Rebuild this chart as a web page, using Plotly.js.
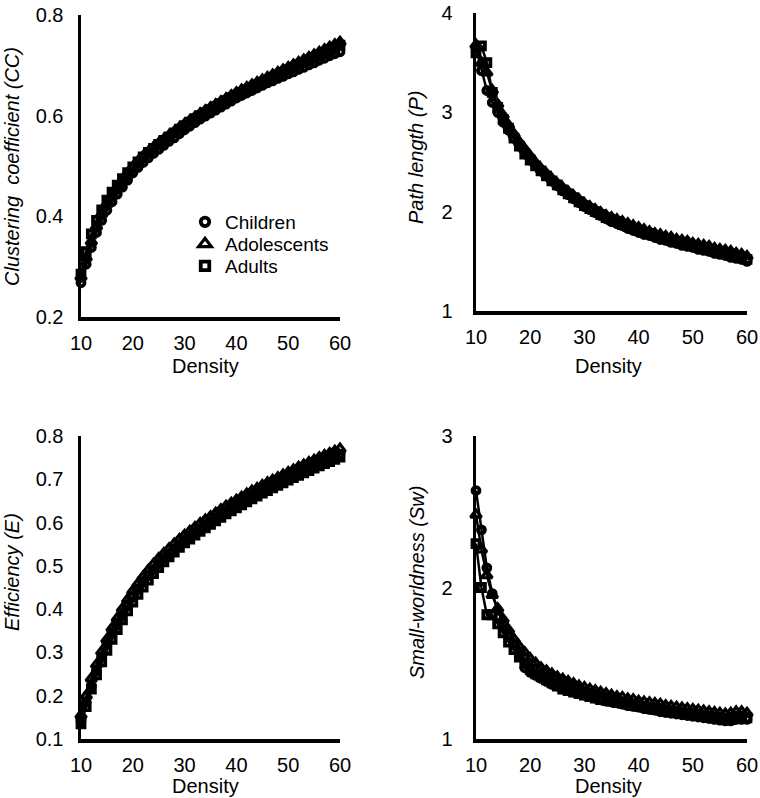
<!DOCTYPE html>
<html>
<head>
<meta charset="utf-8">
<script src="https://cdn.plot.ly/plotly-3.0.1.min.js"></script>
<style>html,body{margin:0;padding:0;background:#fff;}#chart{width:760px;height:798px;}</style>
</head>
<body>
<div id="chart"></div>
<script>
// ---- data ----
const density = [10,11,12,13,14,15,16,17,18,19,20,21,22,23,24,25,26,27,28,29,30,31,32,33,34,35,36,37,38,39,40,41,42,43,44,45,46,47,48,49,50,51,52,53,54,55,56,57,58,59,60];
const groups = ["Children","Adolescents","Adults"];

const ccChildren = [0.268,0.305,0.338,0.368,0.392,0.412,0.429,0.444,0.458,0.472,0.486,0.497,0.507,0.516,0.525,0.533,0.541,0.549,0.556,0.564,0.572,0.579,0.586,0.593,0.599,0.605,0.611,0.617,0.623,0.629,0.635,0.640,0.645,0.650,0.655,0.660,0.665,0.669,0.674,0.678,0.683,0.687,0.692,0.696,0.701,0.705,0.710,0.714,0.719,0.723,0.727];
const ccAdolescents = [0.280,0.318,0.350,0.380,0.405,0.425,0.442,0.458,0.472,0.486,0.498,0.509,0.519,0.528,0.537,0.545,0.553,0.561,0.568,0.576,0.583,0.590,0.597,0.604,0.610,0.616,0.622,0.628,0.634,0.640,0.646,0.651,0.656,0.661,0.666,0.671,0.676,0.681,0.686,0.691,0.696,0.701,0.706,0.711,0.716,0.721,0.726,0.731,0.736,0.741,0.746];
const ccAdults = [0.285,0.330,0.365,0.392,0.413,0.432,0.448,0.462,0.475,0.487,0.498,0.508,0.518,0.527,0.535,0.543,0.551,0.558,0.566,0.573,0.580,0.587,0.594,0.600,0.606,0.612,0.618,0.624,0.630,0.636,0.641,0.646,0.651,0.656,0.661,0.666,0.671,0.676,0.681,0.686,0.691,0.696,0.701,0.706,0.711,0.716,0.720,0.725,0.730,0.735,0.740];

const pChildren = [3.65,3.42,3.22,3.10,3.00,2.90,2.82,2.74,2.66,2.60,2.54,2.47,2.41,2.36,2.31,2.26,2.21,2.17,2.13,2.09,2.05,2.02,1.99,1.96,1.93,1.90,1.88,1.86,1.83,1.81,1.79,1.77,1.76,1.74,1.72,1.71,1.69,1.68,1.66,1.65,1.64,1.62,1.61,1.60,1.58,1.57,1.56,1.54,1.53,1.52,1.50];
const pAdolescents = [3.68,3.50,3.40,3.22,3.08,2.97,2.87,2.78,2.70,2.63,2.56,2.49,2.43,2.38,2.33,2.28,2.24,2.20,2.16,2.12,2.08,2.05,2.02,1.99,1.96,1.94,1.92,1.90,1.88,1.86,1.84,1.82,1.80,1.78,1.77,1.75,1.74,1.72,1.71,1.70,1.68,1.67,1.66,1.65,1.63,1.62,1.61,1.60,1.58,1.57,1.55];
const pAdults = [3.60,3.67,3.50,3.20,3.05,2.93,2.84,2.74,2.66,2.58,2.52,2.46,2.41,2.36,2.31,2.27,2.22,2.18,2.14,2.10,2.06,2.03,2.00,1.97,1.94,1.92,1.90,1.87,1.85,1.83,1.81,1.79,1.78,1.76,1.74,1.73,1.71,1.70,1.68,1.67,1.66,1.64,1.63,1.62,1.60,1.59,1.58,1.56,1.55,1.54,1.52];

const eChildren = [0.142,0.185,0.223,0.258,0.290,0.319,0.345,0.368,0.390,0.410,0.430,0.447,0.463,0.478,0.492,0.505,0.517,0.528,0.539,0.549,0.558,0.567,0.576,0.585,0.593,0.601,0.610,0.618,0.626,0.634,0.641,0.648,0.655,0.662,0.668,0.675,0.681,0.687,0.693,0.699,0.705,0.711,0.716,0.722,0.727,0.733,0.738,0.743,0.748,0.753,0.758];
const eAdolescents = [0.155,0.200,0.240,0.272,0.302,0.330,0.356,0.379,0.401,0.422,0.442,0.459,0.475,0.490,0.504,0.517,0.529,0.540,0.551,0.561,0.571,0.580,0.589,0.598,0.606,0.614,0.622,0.630,0.638,0.645,0.652,0.659,0.666,0.673,0.679,0.686,0.692,0.698,0.704,0.710,0.716,0.722,0.728,0.733,0.739,0.744,0.750,0.755,0.760,0.765,0.770];
const eAdults = [0.135,0.175,0.215,0.248,0.278,0.305,0.330,0.353,0.375,0.396,0.416,0.434,0.451,0.467,0.482,0.496,0.509,0.521,0.532,0.543,0.553,0.562,0.571,0.580,0.588,0.596,0.604,0.612,0.620,0.627,0.634,0.641,0.648,0.655,0.661,0.668,0.674,0.680,0.686,0.692,0.698,0.704,0.709,0.715,0.720,0.726,0.731,0.736,0.741,0.746,0.751];

const swChildren = [2.64,2.38,2.13,1.96,1.85,1.76,1.68,1.62,1.56,1.47,1.44,1.42,1.40,1.38,1.36,1.35,1.33,1.32,1.31,1.30,1.29,1.28,1.27,1.26,1.25,1.245,1.24,1.23,1.22,1.215,1.21,1.20,1.195,1.19,1.18,1.175,1.17,1.165,1.16,1.155,1.15,1.145,1.14,1.135,1.13,1.125,1.12,1.12,1.13,1.13,1.13];
const swAdolescents = [2.48,2.25,2.08,1.95,1.86,1.79,1.72,1.66,1.61,1.57,1.53,1.50,1.47,1.45,1.43,1.41,1.395,1.38,1.365,1.35,1.34,1.33,1.32,1.31,1.30,1.29,1.28,1.275,1.265,1.26,1.25,1.245,1.24,1.235,1.23,1.22,1.215,1.21,1.205,1.20,1.195,1.19,1.185,1.18,1.175,1.17,1.165,1.17,1.18,1.18,1.17];
const swAdults = [2.29,2.00,1.82,1.82,1.76,1.70,1.64,1.59,1.54,1.50,1.46,1.43,1.41,1.39,1.37,1.35,1.33,1.32,1.31,1.30,1.29,1.28,1.27,1.26,1.255,1.25,1.24,1.235,1.23,1.22,1.215,1.21,1.20,1.195,1.19,1.185,1.18,1.175,1.17,1.165,1.16,1.155,1.15,1.145,1.14,1.135,1.13,1.13,1.14,1.14,1.14];

const yTitles = ["Clustering\u00a0 coefficient (CC)", "Path length (P)", "Efficiency (E)", "Small-worldness (Sw)"];
const xTitle = "Density";

// ---- styling ----
const FONT = "Liberation Sans, Arial, Helvetica, sans-serif";
const W = 760, H = 798;
const symbols = {Children: "circle-open", Adolescents: "triangle-up-open", Adults: "square-open"};
const msize = {Children: 7, Adolescents: 9.5, Adults: 7};
const mline = {Children: 3.8, Adolescents: 3.2, Adults: 3.8};

const panels = [
  {ax: "", data: {Children: ccChildren, Adolescents: ccAdolescents, Adults: ccAdults}},
  {ax: "2", data: {Children: pChildren, Adolescents: pAdolescents, Adults: pAdults}},
  {ax: "3", data: {Children: eChildren, Adolescents: eAdolescents, Adults: eAdults}},
  {ax: "4", data: {Children: swChildren, Adolescents: swAdolescents, Adults: swAdults}}
];

const traces = [];
const drawOrder = ["Adults", "Adolescents", "Children"];
panels.forEach(p => {
  drawOrder.forEach(g => {
    traces.push({
      x: density, y: p.data[g], type: "scatter", mode: "lines+markers",
      xaxis: "x" + p.ax, yaxis: "y" + p.ax, name: g, showlegend: false,
      cliponaxis: false,
      line: {color: "#000", width: 2.5},
      marker: {symbol: symbols[g], size: msize[g], color: "#000", line: {color: "#000", width: mline[g]}}
    });
  });
});
// legend entries (markers only), one legend per row
const legendIds = ["legend", "legend2", "legend3"];
groups.forEach((g, i) => {
  traces.push({
    x: [null], y: [null], type: "scatter", mode: "markers", name: g,
    xaxis: "x", yaxis: "y", showlegend: true, legend: legendIds[i],
    marker: {symbol: symbols[g], size: msize[g] + 1.5, color: "#000", line: {color: "#000", width: mline[g]}}
  });
});

function px2x(v){ return v / W; }
function px2y(v){ return 1 - v / H; }

function xax(d0, d1, anchor){
  return {domain: [px2x(d0), px2x(d1)], range: [10, 60], anchor: anchor,
    showgrid: false, zeroline: false, showline: true, linecolor: "#000", linewidth: 3.5,
    ticks: "", tickvals: [10,20,30,40,50,60], ticklabelstandoff: 5, ticklabeloverflow: "allow",
    tickfont: {family: FONT, size: 20, color: "#000"}};
}
function yax(d0, d1, range, dtick, anchor, standoff){
  return {domain: [px2y(d1), px2y(d0)], range: range, anchor: anchor,
    showgrid: false, zeroline: false, showline: true, linecolor: "#000", linewidth: 3.5,
    ticks: "", dtick: dtick, tick0: range[0], ticklabelstandoff: standoff, ticklabeloverflow: "allow",
    tickfont: {family: FONT, size: 20, color: "#000"}};
}

const ann = [];
const titlePos = [[12, 167], [416, 158], [12, 572], [417, 583]];
yTitles.forEach((t, i) => {
  ann.push({text: "<i>" + t + "</i>", xref: "paper", yref: "paper",
    x: px2x(titlePos[i][0]), y: px2y(titlePos[i][1]), xanchor: "center", yanchor: "middle",
    textangle: -90, showarrow: false, font: {family: FONT, size: 20, color: "#000"}});
});
const xtPos = [[205, 366], [608, 366], [205, 786], [608, 786]];
xtPos.forEach(p => {
  ann.push({text: xTitle, xref: "paper", yref: "paper", x: px2x(p[0]), y: px2y(p[1]),
    xanchor: "center", yanchor: "middle", showarrow: false, font: {family: FONT, size: 20, color: "#000"}});
});

function leg(yc){
  return {x: px2x(185), y: px2y(yc), xanchor: "left", yanchor: "middle",
    bgcolor: "rgba(0,0,0,0)", font: {family: FONT, size: 19, color: "#000"}, itemwidth: 30};
}

const layout = {
  width: W, height: H, margin: {l: 0, r: 0, t: 0, b: 0},
  paper_bgcolor: "#fff", plot_bgcolor: "#fff",
  font: {family: FONT, color: "#000"},
  showlegend: true,
  legend: leg(222), legend2: leg(244), legend3: leg(266),
  xaxis: xax(81, 340, "y"),
  yaxis: yax(15, 317, [0.2, 0.8], 0.2, "x", 10),
  xaxis2: xax(476, 747, "y2"),
  yaxis2: yax(13, 311, [1, 4], 1, "x2", 16),
  xaxis3: xax(81, 340, "y3"),
  yaxis3: yax(436, 739, [0.1, 0.8], 0.1, "x3", 10),
  xaxis4: xax(476, 747, "y4"),
  yaxis4: yax(436, 739, [1, 3], 1, "x4", 16),
  annotations: ann
};

Plotly.newPlot("chart", traces, layout, {staticPlot: true, displayModeBar: false});
</script>
</body>
</html>
